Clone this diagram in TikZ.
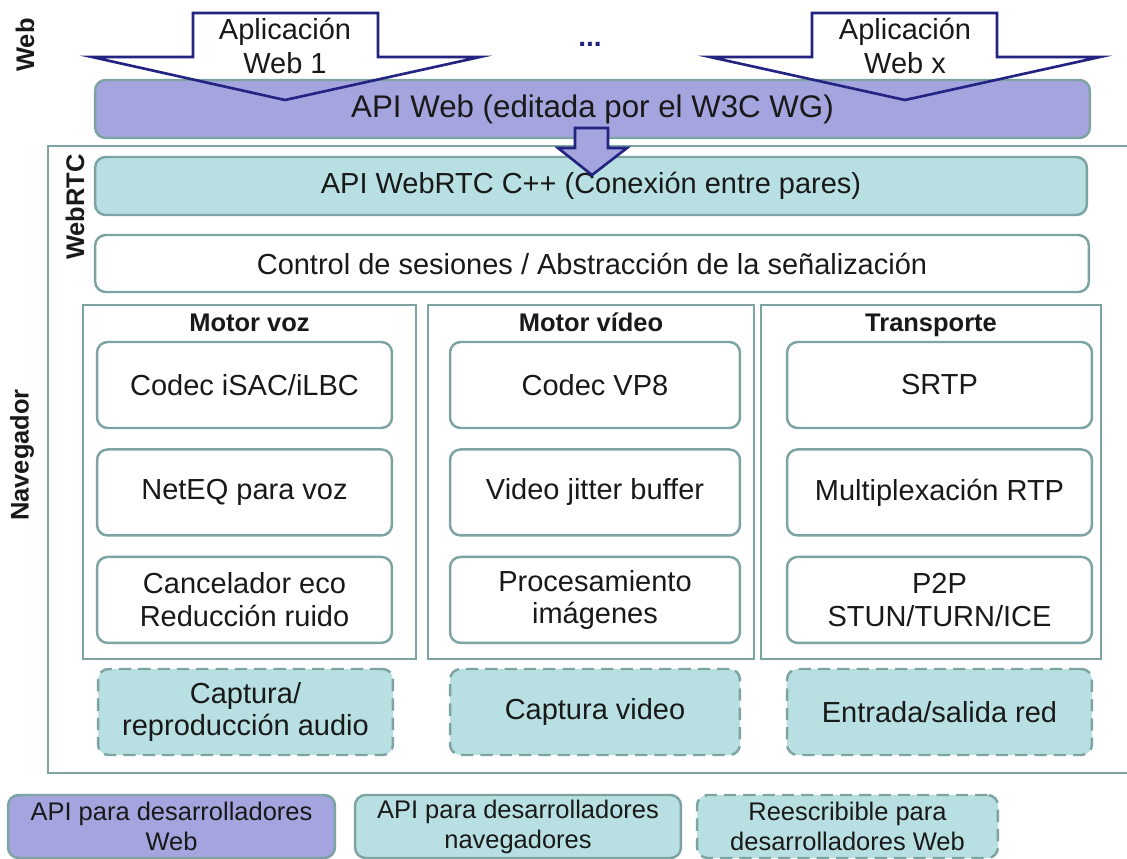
\documentclass[tikz,border=0pt]{standalone}
\usepackage{fontspec}
\setmainfont{Liberation Sans}
\usetikzlibrary{positioning}
\definecolor{borde}{RGB}{125,163,163}
\definecolor{turq}{RGB}{184,224,226}
\definecolor{lila}{RGB}{164,164,222}
\definecolor{azul}{RGB}{35,35,130}
\definecolor{texto}{RGB}{25,25,25}

\begin{document}
\begin{tikzpicture}[x=0.02cm, y=-0.02cm, node distance=0.38cm,
			caja/.style={draw=borde, line width=1.4pt, rounded corners=6pt, align=center, text=texto, inner sep=2pt, font=\fontsize{16.5}{18.5}\selectfont},
			api/.style={caja, fill=lila, font=\fontsize{17.8}{20}\selectfont},
			nav/.style={caja, fill=turq},
			fila/.style={caja, fill=white, minimum height=1.72cm},
			reesc/.style={caja, fill=turq, dashed, dash pattern=on 7pt off 4pt, minimum height=1.72cm},
			motor/.style={draw=borde, line width=1.4pt},
			titulo/.style={font=\bfseries\fontsize{14.5}{16}\selectfont, text=texto},
			lateral/.style={titulo, rotate=90},
			flecha/.style={draw=azul, line width=1.5pt, line join=miter},
			leyenda/.style={font=\fontsize{14.5}{17}\selectfont}]
			\useasboundingbox (0,0) rectangle (1127,859);
			% capa web
			\node[lateral] (lweb) at (25,45) {Web};
			\node[api, minimum width=19.9cm, minimum height=1.16cm] (apiweb) at (592.5,109) {API Web (editada por el W3C WG)};
			\draw[flecha] (193,13) -- (378,13) -- (378,57) -- (480,57) -- (285,100) -- (92,57) -- (193,57) -- cycle;
			\draw[flecha] (812,13) -- (997,13) -- (997,57) -- (1100,57) -- (905,100) -- (710,57) -- (812,57) -- cycle;
			\node[align=center, text=texto, font=\fontsize{16.5}{19}\selectfont] (app1) at (285,46) {Aplicación\\Web 1};
			\node[align=center, text=texto, font=\fontsize{16.5}{19}\selectfont] (appx) at (905,46) {Aplicación\\Web x};
			\node[anchor=base, text=azul, font=\bfseries\fontsize{16}{18}\selectfont] (puntos) at (590,46) {...};
			% navegador
			\draw[motor] (1127,146) -- (48,146) -- (48,773) -- (1127,773);
			\node[lateral] (lnav) at (22,455) {Navegador};
			\node[lateral] (lrtc) at (75,207) {WebRTC};
			\node[nav, minimum width=19.84cm, minimum height=1.16cm] (webrtc) at (591,186) {API WebRTC C++ (Conexión entre pares)};
			\node[caja, fill=white, minimum width=19.88cm, minimum height=1.14cm] (ctrl) at (592,263.5) {Control de sesiones / Abstracción de la señalización};
			\draw[flecha, fill=lila] (575,128) -- (608,128) -- (608,148) -- (627,148) -- (592,175) -- (558,148) -- (575,148) -- cycle;
			% motores
			\node[motor, minimum width=6.66cm, minimum height=7.08cm] (voz) at (249.5,482) {};
			\node[motor, minimum width=6.52cm, minimum height=7.08cm] (video) at (591,482) {};
			\node[motor, minimum width=6.8cm, minimum height=7.08cm] (transp) at (931,482) {};
			\node[titulo, anchor=base] (tvoz) at (249.5,331) {Motor voz};
			\node[titulo, anchor=base] (tvideo) at (591,331) {Motor vídeo};
			\node[titulo, anchor=base] (ttransp) at (931,331) {Transporte};
			\node[fila, minimum width=5.9cm] (isac) at (244.5,385) {Codec iSAC/iLBC};
			\node[fila, minimum width=5.9cm, below=of isac] (neteq) {NetEQ para voz};
			\node[fila, minimum width=5.9cm, below=of neteq] (eco) {Cancelador eco\\Reducción ruido};
			\node[fila, minimum width=5.8cm] (vp8) at (595,385) {Codec VP8};
			\node[fila, minimum width=5.8cm, below=of vp8] (jitter) {Video jitter buffer};
			\node[fila, minimum width=5.8cm, below=of jitter] (img) {Procesamiento\\imágenes};
			\node[fila, minimum width=6.1cm] (srtp) at (939.5,385) {SRTP};
			\node[fila, minimum width=6.1cm, below=of srtp] (mux) {Multiplexación RTP};
			\node[fila, minimum width=6.1cm, below=of mux] (p2p) {P2P\\STUN/TURN/ICE};
			% reescribibles
			\node[reesc, minimum width=5.9cm] (audio) at (245.5,712) {Captura/\\reproducción audio};
			\node[reesc, minimum width=5.8cm] (capvid) at (595,712) {Captura video};
			\node[reesc, minimum width=6.1cm] (red) at (939.5,712) {Entrada/salida red};
			% leyenda
			\node[api, leyenda, minimum width=6.54cm, minimum height=1.26cm] (lapi) at (171.5,826.5) {API para desarrolladores\\Web};
			\node[nav, leyenda, minimum width=6.52cm, minimum height=1.26cm] (lnavg) at (518,826.5) {API para desarrolladores\\navegadores};
			\node[reesc, leyenda, minimum width=6.02cm, minimum height=1.26cm] (lre) at (847.5,826.5) {Reescribible para\\desarrolladores Web};
		\end{tikzpicture}
\end{document}
